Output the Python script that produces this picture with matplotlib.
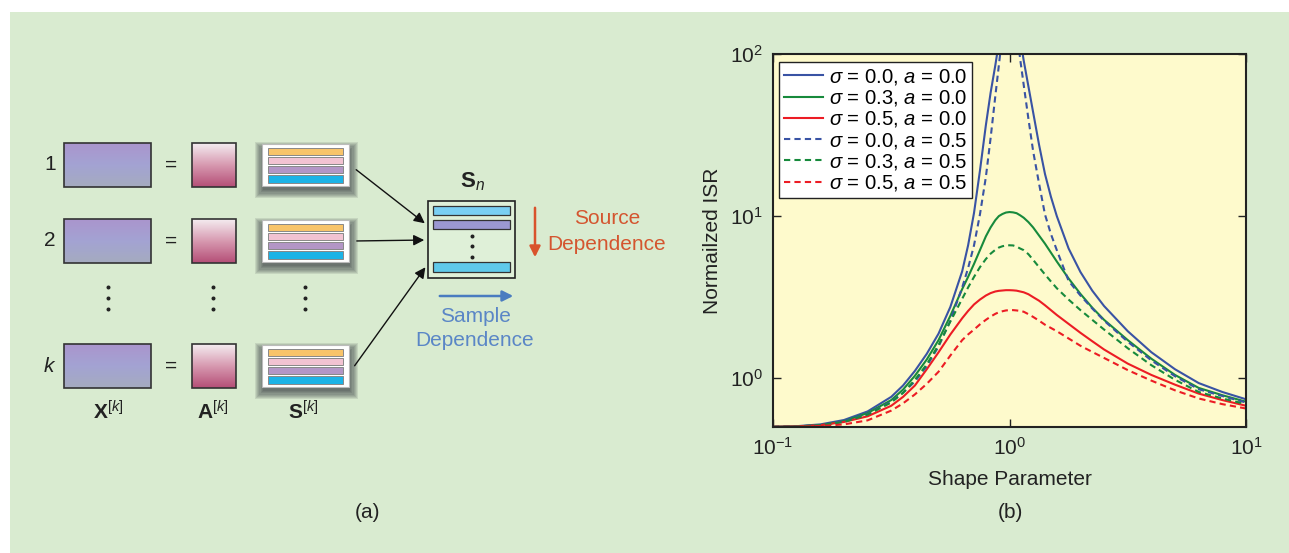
import numpy as np
import matplotlib
matplotlib.use("Agg")
import matplotlib.pyplot as plt
from matplotlib.patches import Rectangle, FancyArrowPatch
from matplotlib.colors import LinearSegmentedColormap
from matplotlib.ticker import NullLocator

plt.rcParams["font.family"] = ["Liberation Sans", "DejaVu Sans"]
plt.rcParams["mathtext.fontset"] = "custom"
plt.rcParams["mathtext.rm"] = "Liberation Sans"
plt.rcParams["mathtext.it"] = "Liberation Sans:italic"
plt.rcParams["mathtext.bf"] = "Liberation Sans:bold"

# ---- panel (b) data (log10) ----
LOG_SHAPE = [-1.0, -0.9, -0.8, -0.7, -0.6, -0.5, -0.45, -0.4, -0.35, -0.3, -0.25,
             -0.2, -0.175, -0.15, -0.125, -0.1, -0.08, -0.06, -0.045, -0.03, -0.015,
             0.0, 0.015, 0.03, 0.045, 0.06, 0.08, 0.1, 0.125, 0.15, 0.175, 0.2,
             0.25, 0.3, 0.35, 0.4, 0.5, 0.6, 0.7, 0.8, 0.9, 1.0]
LOG_S00_A00 = [-0.300, -0.296, -0.285, -0.258, -0.205, -0.115, -0.045, 0.045, 0.150, 0.275, 0.440,
               0.660, 0.820, 1.020, 1.280, 1.560, 1.760, 1.930, 2.070, 2.250, 2.500,
               3.000, 2.500, 2.250, 2.100, 1.960, 1.800, 1.640, 1.440, 1.260, 1.120, 1.000,
               0.800, 0.655, 0.540, 0.445, 0.290, 0.160, 0.055, -0.030, -0.085, -0.130]
LOG_S03_A00 = [-0.300, -0.297, -0.290, -0.265, -0.215, -0.135, -0.070, 0.015, 0.115, 0.235, 0.385,
               0.550, 0.625, 0.705, 0.790, 0.875, 0.930, 0.975, 1.000, 1.013, 1.022,
               1.025, 1.023, 1.018, 1.005, 0.990, 0.963, 0.930, 0.880, 0.830, 0.775, 0.720,
               0.615, 0.520, 0.435, 0.360, 0.235, 0.120, 0.020, -0.060, -0.105, -0.145]
LOG_S05_A00 = [-0.300, -0.298, -0.290, -0.270, -0.235, -0.170, -0.115, -0.045, 0.055, 0.160, 0.270,
               0.370, 0.415, 0.455, 0.485, 0.510, 0.525, 0.535, 0.539, 0.541, 0.543,
               0.543, 0.542, 0.540, 0.535, 0.530, 0.518, 0.500, 0.478, 0.450, 0.420, 0.390,
               0.335, 0.280, 0.228, 0.177, 0.090, 0.020, -0.040, -0.095, -0.135, -0.170]
LOG_S00_A05 = [-0.300, -0.297, -0.290, -0.266, -0.222, -0.145, -0.090, -0.020, 0.075, 0.195, 0.355,
               0.560, 0.680, 0.820, 1.010, 1.240, 1.480, 1.740, 1.930, 2.120, 2.350,
               2.600, 2.380, 2.150, 1.970, 1.810, 1.600, 1.400, 1.200, 1.010, 0.890, 0.790,
               0.600, 0.510, 0.430, 0.355, 0.225, 0.110, 0.012, -0.068, -0.110, -0.150]
LOG_S03_A05 = [-0.300, -0.298, -0.290, -0.270, -0.225, -0.150, -0.090, -0.010, 0.085, 0.205, 0.350,
               0.490, 0.560, 0.625, 0.685, 0.735, 0.768, 0.792, 0.806, 0.814, 0.819,
               0.820, 0.819, 0.812, 0.800, 0.790, 0.765, 0.730, 0.685, 0.640, 0.597, 0.555,
               0.485, 0.420, 0.360, 0.300, 0.185, 0.080, -0.010, -0.085, -0.125, -0.160]
LOG_S05_A05 = [-0.300, -0.299, -0.295, -0.285, -0.260, -0.200, -0.155, -0.100, -0.035, 0.040, 0.140,
               0.235, 0.270, 0.300, 0.332, 0.360, 0.380, 0.397, 0.407, 0.413, 0.418,
               0.420, 0.420, 0.418, 0.415, 0.410, 0.395, 0.378, 0.355, 0.330, 0.310, 0.290,
               0.245, 0.200, 0.162, 0.125, 0.050, -0.015, -0.075, -0.125, -0.160, -0.187]

SERIES = [
    (LOG_S00_A00, r"$\sigma$ = 0.0, $a$ = 0.0", "#3953a4", "-"),
    (LOG_S03_A00, r"$\sigma$ = 0.3, $a$ = 0.0", "#178a3c", "-"),
    (LOG_S05_A00, r"$\sigma$ = 0.5, $a$ = 0.0", "#ec1c24", "-"),
    (LOG_S00_A05, r"$\sigma$ = 0.0, $a$ = 0.5", "#3953a4", (0, (3, 2))),
    (LOG_S03_A05, r"$\sigma$ = 0.3, $a$ = 0.5", "#178a3c", (0, (3, 2))),
    (LOG_S05_A05, r"$\sigma$ = 0.5, $a$ = 0.5", "#ec1c24", (0, (3, 2))),
]

# ---- panel (a) labels ----
ROW_LABELS = ["1", "2", r"$k$"]
COL_LABELS = [r"$\mathbf{X}^{[k]}$", r"$\mathbf{A}^{[k]}$", r"$\mathbf{S}^{[k]}$"]
STRIPE_COLORS = ["#f8c46a", "#f2c3d2", "#b396c6", "#1cb3e6"]

W, H = 1289, 553
FS = 15
fig = plt.figure(figsize=(W / 100, H / 100), dpi=100)
fig.patch.set_facecolor("white")

# diagram canvas in pixel coordinates
ax0 = fig.add_axes([0, 0, 1, 1])
ax0.set_xlim(0, W)
ax0.set_ylim(H, 0)
ax0.axis("off")
ax0.add_patch(Rectangle((10, 12), W - 10, H - 12, fc="#d9ebd0", ec="none", zorder=0))


def grad_box(x0, y0, x1, y1, colors):
    cmap = LinearSegmentedColormap.from_list("g", colors)
    g = np.linspace(0, 1, 64).reshape(-1, 1)
    ax0.imshow(g, cmap=cmap, extent=(x0, x1, y1, y0), aspect="auto",
               interpolation="bilinear", zorder=2)
    ax0.add_patch(Rectangle((x0, y0), x1 - x0, y1 - y0, fill=False,
                            ec="#333333", lw=1.2, zorder=3))


def source_box(x0, y0, w, h):
    # soft drop shadow
    for k in range(8):
        p = k * 1.2
        ax0.add_patch(Rectangle((x0 - p + 1, y0 - p + 6), w + 2 * p, h + 2 * p - 2,
                                fc="#262a35", ec="none", alpha=0.11, zorder=2))
    ax0.add_patch(Rectangle((x0, y0), w, h, fc="white", ec="#bbbbbb", lw=0.8, zorder=3))
    for i, c in enumerate(STRIPE_COLORS):
        ax0.add_patch(Rectangle((x0 + 6, y0 + 3.5 + i * 9.3), w - 12, 7.2,
                                fc=c, ec="#888888", lw=0.7, zorder=4))


row_tops = [143, 219, 344]
for lab, y0 in zip(ROW_LABELS, row_tops):
    yc = y0 + 22
    ax0.text(50, yc, lab, fontsize=FS, ha="center", va="center", color="#222222")
    grad_box(64, y0, 151, y0 + 44, ["#aa95cd", "#a3a3d3", "#a5abbf"])
    ax0.text(171, yc, "=", fontsize=FS, ha="center", va="center", color="#222222")
    grad_box(192, y0, 236, y0 + 44, ["#f4ecf0", "#d799b0", "#b54f77"])
    source_box(262, y0 + 1, 87, 42)

for x in (108, 213, 305):
    ax0.scatter([x, x, x], [287, 298, 309], s=3.5, color="#222222", zorder=3)

for x, lab in zip((108, 213, 303), COL_LABELS):
    ax0.text(x, 412, lab, fontsize=FS, ha="center", va="center", color="#222222")

# arrows into S_n
for (xs, ys), (xe, ye) in [((354, 168), (427, 225)), ((354, 241), (427, 240)),
                           ((353, 368), (427, 265))]:
    ax0.add_patch(FancyArrowPatch((xs, ys), (xe, ye), arrowstyle="-|>",
                                  mutation_scale=16, lw=1.0, color="#111111", zorder=3))

ax0.add_patch(Rectangle((428, 201), 87, 77, fc="#dff0d8", ec="#222222", lw=1.2, zorder=2))
ax0.add_patch(Rectangle((433, 205.5), 77, 9.5, fc="#79cff3", ec="#333333", lw=0.9, zorder=3))
ax0.add_patch(Rectangle((433, 220), 77, 9, fc="#9b98d2", ec="#333333", lw=0.9, zorder=3))
ax0.add_patch(Rectangle((433, 262), 77, 9.5, fc="#5fc9ea", ec="#333333", lw=0.9, zorder=3))
ax0.scatter([472, 472, 472], [236, 246, 257], s=3.5, color="#222222", zorder=3)
ax0.text(472, 182, r"$\mathbf{S}_{n}$", fontsize=FS + 1, ha="center", va="center",
         color="#222222")

ax0.add_patch(FancyArrowPatch((535, 205), (535, 260), arrowstyle="-|>",
                              mutation_scale=16, lw=1.8, color="#d9532c", zorder=3))
ax0.text(607, 219, "Source", fontsize=FS, ha="center", va="center", color="#d4552f")
ax0.text(607, 245, "Dependence", fontsize=FS, ha="center", va="center", color="#d4552f")

ax0.add_patch(FancyArrowPatch((437, 296), (516, 296), arrowstyle="-|>",
                              mutation_scale=16, lw=1.8, color="#4a7cc0", zorder=3))
ax0.text(475, 316, "Sample", fontsize=FS, ha="center", va="center", color="#5a86c6")
ax0.text(475, 341, "Dependence", fontsize=FS, ha="center", va="center", color="#5a86c6")

ax0.text(368, 512, "(a)", fontsize=FS, ha="center", va="center", color="#222222")
ax0.text(1010, 512, "(b)", fontsize=FS, ha="center", va="center", color="#222222")

# ---- panel (b) ----
ax = fig.add_axes([773 / W, 1 - 427 / H, 473 / W, 373 / H])
ax.set_facecolor("#fefacc")
shape = 10.0 ** np.array(LOG_SHAPE)
for vals, lab, col, ls in SERIES:
    ax.plot(shape, 10.0 ** np.array(vals), color=col, ls=ls, lw=1.5, label=lab)
ax.set_xscale("log")
ax.set_yscale("log")
ax.set_xlim(0.1, 10)
ax.set_ylim(0.5, 100)
ax.set_xticks([0.1, 1, 10])
ax.set_yticks([1, 10, 100])
ax.xaxis.set_minor_locator(NullLocator())
ax.yaxis.set_minor_locator(NullLocator())
ax.tick_params(direction="in", top=True, right=True, length=6, width=1,
               labelsize=FS, pad=7, colors="#222222")
for s in ax.spines.values():
    s.set_linewidth(1.5)
    s.set_color("#222222")
ax.set_xlabel("Shape Parameter", fontsize=FS, color="#222222")
ax.set_ylabel("Normailzed ISR", fontsize=FS, color="#222222")
ax.xaxis.set_label_coords(0.5, -0.115)
ax.yaxis.set_label_coords(-0.108, 0.5)
leg = ax.legend(loc="upper left", bbox_to_anchor=(0.0127, 0.9786), borderaxespad=0,
                fontsize=14.6, frameon=True, fancybox=False, framealpha=1,
                edgecolor="#222222", handlelength=1.9, handletextpad=0.3,
                labelspacing=0.06, borderpad=0.25)
leg.get_frame().set_linewidth(1.0)

fig.savefig("out.png", dpi=100, facecolor=fig.get_facecolor())
